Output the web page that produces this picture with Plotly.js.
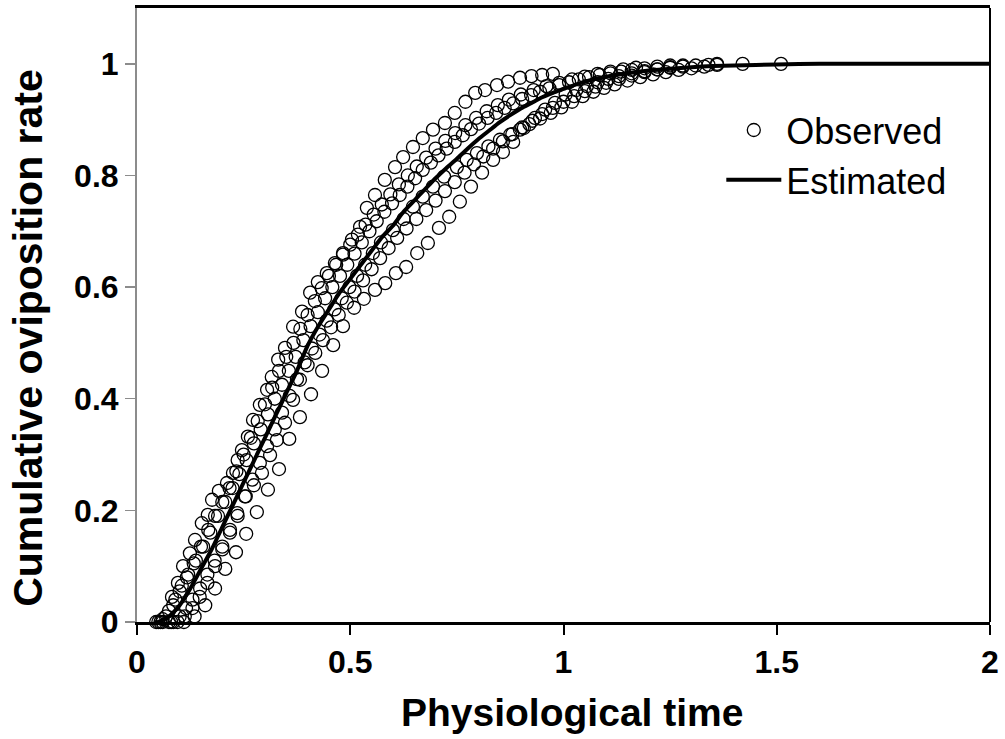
<!DOCTYPE html>
<html>
<head>
<meta charset="utf-8">
<script src="https://cdn.plot.ly/plotly-3.0.1.min.js"></script>
<style>html,body{margin:0;padding:0;background:#fff;}#chart{width:1005px;height:739px;}</style>
</head>
<body>
<div id="chart"></div>
<script>
// Observed series
var s1x = [0.045,0.06,0.082,0.096,0.108,0.124,0.136,0.152,0.166,0.176,0.192,0.211,0.225,0.236,0.246,0.26,0.272,0.288,0.305,0.316,0.331,0.347,0.366,0.387,0.406,0.424,0.445,0.464,0.483,0.504,0.523,0.539,0.558,0.581,0.605,0.624,0.647,0.67,0.694,0.722,0.745,0.77,0.793,0.816,0.844,0.87,0.898,0.925,0.95,0.975];
var s1y = [0,0.005,0.045,0.07,0.1,0.123,0.147,0.177,0.192,0.219,0.235,0.249,0.267,0.29,0.308,0.332,0.362,0.389,0.416,0.439,0.47,0.491,0.529,0.556,0.59,0.609,0.625,0.643,0.661,0.685,0.708,0.742,0.765,0.792,0.815,0.833,0.851,0.867,0.882,0.894,0.912,0.932,0.948,0.953,0.962,0.968,0.975,0.978,0.98,0.982];

var s2x = [0.055,0.075,0.09,0.105,0.12,0.138,0.155,0.172,0.19,0.207,0.224,0.24,0.257,0.274,0.29,0.307,0.323,0.34,0.356,0.372,0.39,0.407,0.424,0.441,0.458,0.476,0.493,0.51,0.527,0.545,0.562,0.58,0.598,0.616,0.634,0.652,0.67,0.689,0.707,0.726,0.745,0.764,0.783,0.802,0.822,0.842,0.862,0.882,0.903,0.924,0.945,0.967,0.99,1.013,1.036,1.06,1.085,1.11,1.135,1.16,1.19,1.22,1.25];
var s2y = [0,0.02,0.04,0.065,0.085,0.11,0.135,0.16,0.19,0.215,0.24,0.265,0.29,0.32,0.345,0.372,0.4,0.425,0.45,0.475,0.505,0.53,0.555,0.58,0.6,0.62,0.64,0.66,0.68,0.7,0.718,0.735,0.75,0.765,0.78,0.795,0.81,0.823,0.836,0.848,0.86,0.872,0.883,0.893,0.903,0.912,0.921,0.929,0.937,0.944,0.95,0.956,0.962,0.967,0.972,0.976,0.98,0.983,0.986,0.989,0.992,0.995,0.997];

var s3x = [0.06,0.08,0.1,0.115,0.13,0.148,0.165,0.182,0.2,0.218,0.235,0.253,0.27,0.288,0.305,0.323,0.34,0.358,0.375,0.393,0.41,0.428,0.445,0.463,0.48,0.498,0.516,0.535,0.553,0.572,0.6,0.625,0.647,0.67,0.694,0.72,0.75,0.773,0.797,0.824,0.851,0.875,0.898,0.92,0.945,0.97,0.995,1.02,1.045,1.07,1.095,1.12,1.15,1.18,1.21,1.24,1.27,1.3,1.33,1.36];
var s3y = [0,0,0.01,0.025,0.04,0.06,0.085,0.11,0.135,0.165,0.195,0.225,0.255,0.285,0.315,0.345,0.375,0.405,0.435,0.465,0.49,0.515,0.54,0.56,0.58,0.6,0.62,0.64,0.661,0.68,0.702,0.722,0.744,0.762,0.78,0.798,0.815,0.828,0.84,0.852,0.864,0.873,0.882,0.892,0.902,0.912,0.922,0.932,0.942,0.95,0.957,0.963,0.97,0.976,0.981,0.985,0.989,0.992,0.995,0.998];

var s4x = [0.075,0.095,0.112,0.13,0.147,0.165,0.183,0.2,0.218,0.236,0.255,0.274,0.293,0.312,0.328,0.347,0.366,0.382,0.4,0.418,0.436,0.455,0.473,0.492,0.51,0.53,0.55,0.57,0.59,0.61,0.632,0.655,0.678,0.7,0.722,0.745,0.768,0.79,0.812,0.835,0.858,0.88,0.903,0.927,0.95,0.975,1.0,1.025,1.05,1.075,1.1,1.13,1.16,1.19,1.22,1.25,1.28];
var s4y = [0,0,0.01,0.025,0.045,0.07,0.1,0.13,0.16,0.19,0.225,0.245,0.267,0.299,0.326,0.357,0.398,0.434,0.46,0.482,0.505,0.528,0.55,0.572,0.592,0.612,0.632,0.652,0.67,0.688,0.705,0.722,0.738,0.755,0.772,0.788,0.805,0.82,0.834,0.848,0.861,0.874,0.886,0.898,0.91,0.921,0.932,0.942,0.951,0.959,0.966,0.973,0.979,0.985,0.99,0.994,0.997];

var s5x = [0.05,0.068,0.085,0.1,0.117,0.133,0.15,0.167,0.183,0.2,0.217,0.233,0.25,0.267,0.283,0.3,0.317,0.333,0.35,0.367,0.383,0.4,0.417,0.433,0.45,0.467,0.483,0.5,0.518,0.536,0.555,0.574,0.594,0.614,0.635,0.656,0.678,0.7,0.723,0.746,0.77,0.795,0.82,0.846,0.872,0.9,0.93,0.96,0.99,1.02,1.05,1.08,1.11,1.14,1.17];
var s5y = [0,0.01,0.03,0.055,0.08,0.105,0.135,0.165,0.19,0.215,0.24,0.27,0.3,0.33,0.36,0.39,0.42,0.45,0.475,0.5,0.525,0.55,0.575,0.598,0.62,0.64,0.658,0.676,0.694,0.712,0.73,0.748,0.766,0.784,0.8,0.816,0.832,0.848,0.862,0.876,0.89,0.903,0.915,0.926,0.936,0.945,0.953,0.96,0.966,0.972,0.977,0.982,0.986,0.99,0.993];

var s6x = [0.085,0.11,0.135,0.16,0.183,0.207,0.232,0.256,0.281,0.307,0.333,0.357,0.382,0.408,0.434,0.46,0.483,0.509,0.532,0.558,0.582,0.607,0.631,0.657,0.682,0.708,0.732,0.757,0.783,0.809,0.835,0.858,0.882,0.907,0.933,0.957,0.98,1.005,1.03,1.055,1.08,1.105,1.13,1.16,1.19,1.22,1.25,1.28,1.31,1.34,1.36,1.42,1.51];
var s6y = [0,0,0.01,0.03,0.06,0.095,0.125,0.158,0.197,0.237,0.274,0.328,0.367,0.408,0.45,0.496,0.53,0.563,0.579,0.595,0.607,0.625,0.636,0.661,0.679,0.706,0.726,0.753,0.78,0.805,0.828,0.842,0.86,0.885,0.903,0.918,0.93,0.945,0.953,0.96,0.967,0.973,0.978,0.983,0.987,0.99,0.993,0.995,0.997,0.998,1.0,1.0,1.0];

// Estimated curve
var estX = [0.04,0.05,0.075,0.1,0.125,0.15,0.175,0.2,0.225,0.25,0.275,0.3,0.325,0.35,0.375,0.4,0.425,0.45,0.475,0.5,0.525,0.55,0.575,0.6,0.625,0.65,0.675,0.7,0.725,0.75,0.775,0.8,0.825,0.85,0.875,0.9,0.925,0.95,0.975,1.0,1.025,1.05,1.075,1.1,1.15,1.2,1.25,1.3,1.35,1.4,1.5,1.6,1.8,2.0];
var estY = [0,0,0.01,0.03,0.06,0.095,0.13,0.17,0.21,0.25,0.29,0.33,0.37,0.41,0.45,0.495,0.53,0.56,0.59,0.615,0.64,0.665,0.69,0.71,0.735,0.755,0.775,0.795,0.813,0.83,0.848,0.865,0.88,0.895,0.908,0.92,0.93,0.94,0.948,0.955,0.962,0.968,0.973,0.977,0.983,0.988,0.991,0.994,0.996,0.997,0.999,1.0,1.0,1.0];

var xTicks = [0,0.5,1,1.5,2];
var xTickText = ['0','0.5','1','1.5','2'];
var yTicks = [0,0.2,0.4,0.6,0.8,1];
var yTickText = ['0','0.2','0.4','0.6','0.8','1'];
var xTitle = 'Physiological time';
var yTitle = 'Cumulative oviposition rate';

var obsX = [].concat(s1x,s2x,s3x,s4x,s5x,s6x);
var obsY = [].concat(s1y,s2y,s3y,s4y,s5y,s6y);

var FONT = 'Liberation Sans, Arial, sans-serif';

var traces = [
  {x: obsX, y: obsY, type: 'scatter', mode: 'markers', name: 'Observed',
   marker: {symbol: 'circle-open', size: 13, color: '#000', line: {width: 1.3, color: '#000'}},
   cliponaxis: false},
  {x: estX, y: estY, type: 'scatter', mode: 'lines', name: 'Estimated',
   line: {color: '#000', width: 4, shape: 'spline', smoothing: 0.6}}
];

var layout = {
  width: 1005, height: 739,
  margin: {l: 137, r: 15, t: 8, b: 117},
  paper_bgcolor: '#fff', plot_bgcolor: '#fff',
  font: {family: FONT, color: '#000'},
  showlegend: true,
  legend: {x: 0.685, y: 0.85, xanchor: 'left', yanchor: 'top',
           itemwidth: 55,
           font: {family: FONT, size: 36, color: '#000'},
           bgcolor: 'rgba(0,0,0,0)', borderwidth: 0},
  xaxis: {range: [0, 2], tickvals: xTicks, ticktext: xTickText,
          showgrid: false, zeroline: false,
          showline: true, linecolor: '#000', linewidth: 3, mirror: true,
          ticks: 'outside', ticklen: 10, tickwidth: 2, tickcolor: '#000',
          tickfont: {family: FONT, size: 32, color: '#000', weight: 'bold'}},
  yaxis: {range: [0, 1.1], tickvals: yTicks, ticktext: yTickText,
          showgrid: false, zeroline: false,
          showline: true, linecolor: '#8c8c8c', linewidth: 2,
          ticks: 'outside', ticklen: 10, tickwidth: 1.5, tickcolor: '#8c8c8c',
          tickfont: {family: FONT, size: 32, color: '#000', weight: 'bold'}},
  annotations: [
    {text: '<b>' + xTitle + '</b>', xref: 'paper', yref: 'paper', x: 0.51, y: -0.147,
     xanchor: 'center', yanchor: 'middle', showarrow: false,
     font: {family: FONT, size: 39, color: '#000'}},
    {text: '<b>' + yTitle + '</b>', xref: 'paper', yref: 'paper', x: -0.128, y: 0.4625,
     xanchor: 'center', yanchor: 'middle', textangle: -90, showarrow: false,
     font: {family: FONT, size: 41, color: '#000'}}
  ],
  shapes: [
    {type: 'line', xref: 'paper', yref: 'paper', x0: 1, x1: 1, y0: 0, y1: 1,
     line: {color: '#000', width: 2}}
  ]
};

Plotly.newPlot('chart', traces, layout, {displayModeBar: false, staticPlot: true});
</script>
</body>
</html>
